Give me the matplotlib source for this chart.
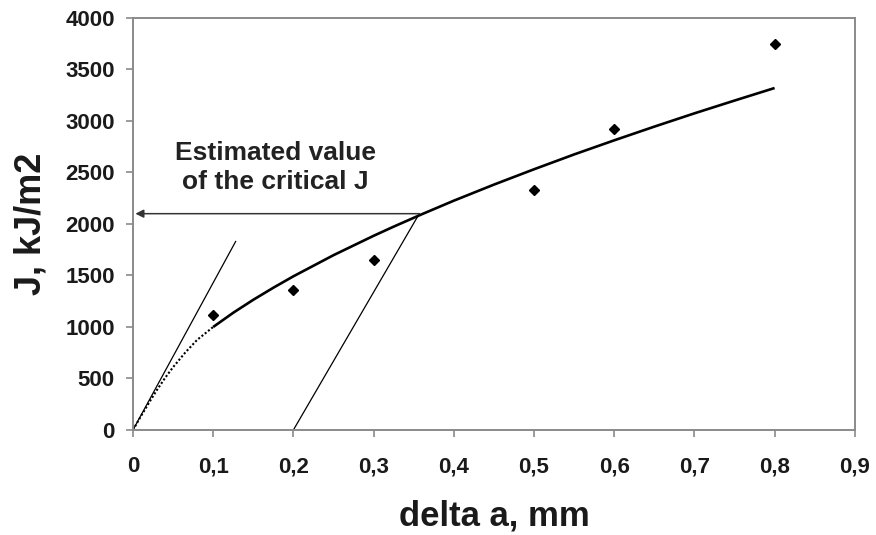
import matplotlib
matplotlib.use('Agg')
import matplotlib.pyplot as plt
from matplotlib.ticker import FuncFormatter

plt.rcParams['font.family'] = ['Liberation Sans', 'DejaVu Sans']
plt.rcParams['font.weight'] = 'bold'

# measured points
da_pts = [0.1, 0.2, 0.3, 0.5, 0.6, 0.8]
j_pts = [1120, 1360, 1650, 2330, 2920, 3750]

# fitted curve
fit_x = [0.1, 0.125, 0.15, 0.175, 0.2, 0.25, 0.3, 0.325, 0.36, 0.4, 0.45, 0.5,
         0.55, 0.6, 0.65, 0.7, 0.75, 0.8]
fit_y = [1000, 1138, 1264, 1381, 1492, 1697, 1885, 1974, 2094, 2226, 2382, 2531,
         2675, 2812, 2945, 3074, 3198, 3320]

# dotted part near the origin
dot_x = [0.0, 0.01, 0.02, 0.03, 0.04, 0.05, 0.065, 0.08, 0.1]
dot_y = [0, 135, 265, 390, 505, 610, 750, 875, 1000]

# blunting line and offset line
blunt_x = [0.0, 0.128]
blunt_y = [0, 1830]
offset_x = [0.2, 0.357]
offset_y = [0, 2100]

# critical J
jc_x = 0.357
jc = 2100

fig = plt.figure(figsize=(8.76, 5.35), dpi=100)
ax = fig.add_axes([0.1518, 0.1963, 0.824, 0.7701])

ax.plot(dot_x, dot_y, color='black', lw=1.5, ls=(0, (1, 1)))
ax.plot(fit_x, fit_y, color='black', lw=1.9, solid_capstyle='butt')
ax.plot(blunt_x, blunt_y, color='black', lw=0.9)
ax.plot(offset_x, offset_y, color='black', lw=0.9)
ax.plot(da_pts, j_pts, ls='none', marker='D', ms=5, color='black')

ax.annotate('', xy=(0.003, jc), xytext=(jc_x, jc),
            arrowprops=dict(arrowstyle='-|>', color='#333333', lw=1.1,
                            mutation_scale=12, shrinkA=0, shrinkB=0))
ax.text(0.178, 2545, 'Estimated value\nof the critical J', ha='center', va='center',
        fontsize=19, fontweight='bold', color='#222222', linespacing=1.25)

ax.set_xlim(0, 0.9)
ax.set_ylim(0, 4000)
ax.set_xticks([i / 10 for i in range(10)])
ax.set_yticks(range(0, 4001, 500))
ax.xaxis.set_major_formatter(FuncFormatter(lambda v, p: '0' if v == 0 else f'{v:.1f}'.replace('.', ',')))

for s in ax.spines.values():
    s.set_color('#8a8a8a')
    s.set_linewidth(1.4)
ax.tick_params(colors='#8a8a8a', length=5, width=1.2, labelcolor='#1a1a1a', labelsize=16)
ax.tick_params(axis='x', pad=14)
ax.tick_params(axis='y', pad=8)
for lab in ax.get_xticklabels() + ax.get_yticklabels():
    lab.set_fontweight('bold')

ax.set_xlabel('delta a, mm', fontsize=25, fontweight='bold', color='#1a1a1a', labelpad=16)
ax.set_ylabel('J, kJ/m2', fontsize=26, fontweight='bold', color='#1a1a1a', labelpad=12)

fig.savefig('out.png', dpi=100)
